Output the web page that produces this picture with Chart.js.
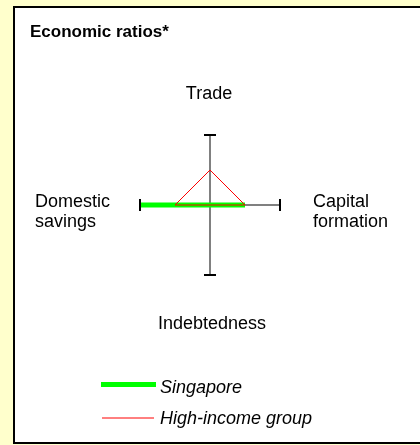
<!DOCTYPE html>
<html><head><meta charset="utf-8">
<script src="https://cdn.jsdelivr.net/npm/chart.js@4"></script>
<style>html,body{margin:0;padding:0;background:#ffffcc;}canvas{display:block;}</style>
</head><body>
<canvas id="c" width="420" height="445"></canvas>
<script>
const chartTitle = 'Economic ratios*';
const axisLabels = [['Trade'], ['Capital', 'formation'], ['Indebtedness'], ['Domestic', 'savings']];
const seriesNames = ['Singapore', 'High-income group'];
const singapore = [0, 0.5, 0, 1.0];
const highIncome = [0.5, 0.5, 0, 0.5];

const FONT = '"Liberation Sans", Arial, Helvetica, sans-serif';

const decor = {
  id: 'decor',
  beforeDraw(chart) {
    const ctx = chart.ctx, W = chart.width;
    ctx.save();
    ctx.fillStyle = '#ffffcc';
    ctx.fillRect(0, 0, W, chart.height);
    ctx.fillStyle = '#ffffff';
    ctx.fillRect(14, 7, W - 14, 436);
    ctx.strokeStyle = '#000000';
    ctx.lineWidth = 2;
    ctx.beginPath();
    ctx.moveTo(W, 7); ctx.lineTo(14, 7); ctx.lineTo(14, 443); ctx.lineTo(W, 443);
    ctx.stroke();
    ctx.fillStyle = '#000000';
    ctx.font = 'bold 17px ' + FONT;
    ctx.textAlign = 'left';
    ctx.textBaseline = 'alphabetic';
    ctx.fillText(chartTitle, 30, 36.5);
    ctx.restore();
  },
  afterDatasetsDraw(chart) {
    const ctx = chart.ctx, s = chart.scales.r, R = s.drawingArea;
    ctx.save();
    // end caps on the axes
    ctx.strokeStyle = '#000000';
    ctx.lineWidth = 2;
    for (let i = 0; i < chart.data.labels.length; i++) {
      const p = s.getPointPosition(i, R);
      const a = p.angle + Math.PI / 2;
      const dx = Math.cos(a) * 6, dy = Math.sin(a) * 6;
      ctx.beginPath(); ctx.moveTo(p.x - dx, p.y - dy); ctx.lineTo(p.x + dx, p.y + dy); ctx.stroke();
    }
    // axis labels
    ctx.fillStyle = '#000000';
    ctx.font = '18px ' + FONT;
    ctx.textBaseline = 'alphabetic';
    const gaps = [36, 33, 41, 30];
    chart.data.labels.forEach((lines, i) => {
      const p = s.getPointPosition(i, R + gaps[i]);
      if (i === 0) {
        ctx.textAlign = 'center';
        ctx.fillText(lines[0], p.x - 1, p.y);
      } else if (i === 2) {
        ctx.textAlign = 'center';
        ctx.fillText(lines[0], p.x + 2, p.y + 13);
      } else {
        ctx.textAlign = 'left';
        let x = p.x;
        if (i === 3) {
          const mw = Math.max(...lines.map(l => ctx.measureText(l).width));
          x = p.x - mw;
        }
        lines.forEach((l, k) => ctx.fillText(l, x, p.y + 2 + k * 20));
      }
    });
    // legend
    const lineY = [384.5, 418];
    const textY = [393, 423.5];
    const lineX = [[101, 156], [102, 154]];
    ctx.font = 'italic 18px ' + FONT;
    ctx.textAlign = 'left';
    chart.data.datasets.forEach((ds, k) => {
      ctx.strokeStyle = ds.borderColor;
      ctx.lineWidth = ds.borderWidth;
      ctx.lineCap = 'butt';
      ctx.beginPath(); ctx.moveTo(lineX[k][0], lineY[k]); ctx.lineTo(lineX[k][1], lineY[k]); ctx.stroke();
      ctx.fillStyle = '#000000';
      ctx.fillText(ds.label, 160, textY[k]);
    });
    ctx.restore();
  }
};

new Chart(document.getElementById('c'), {
  type: 'radar',
  data: {
    labels: axisLabels,
    datasets: [
      { label: seriesNames[0], data: singapore, borderColor: '#00ff00', borderWidth: 5,
        backgroundColor: 'transparent', fill: false, pointRadius: 0, order: 1 },
      { label: seriesNames[1], data: highIncome, borderColor: '#ff0000', borderWidth: 1,
        backgroundColor: 'transparent', fill: false, pointRadius: 0, order: 0 }
    ]
  },
  options: {
    responsive: false,
    animation: false,
    devicePixelRatio: 1,
    layout: { padding: { left: 140, right: 140, top: 135, bottom: 170 } },
    plugins: { legend: { display: false }, title: { display: false }, tooltip: { enabled: false } },
    elements: { line: { tension: 0 }, point: { radius: 0 } },
    scales: {
      r: {
        min: 0, max: 1,
        ticks: { display: false },
        grid: { display: false },
        angleLines: { display: true, color: '#808080', lineWidth: 2 },
        pointLabels: { display: false }
      }
    }
  },
  plugins: [decor]
});
</script>
</body></html>
